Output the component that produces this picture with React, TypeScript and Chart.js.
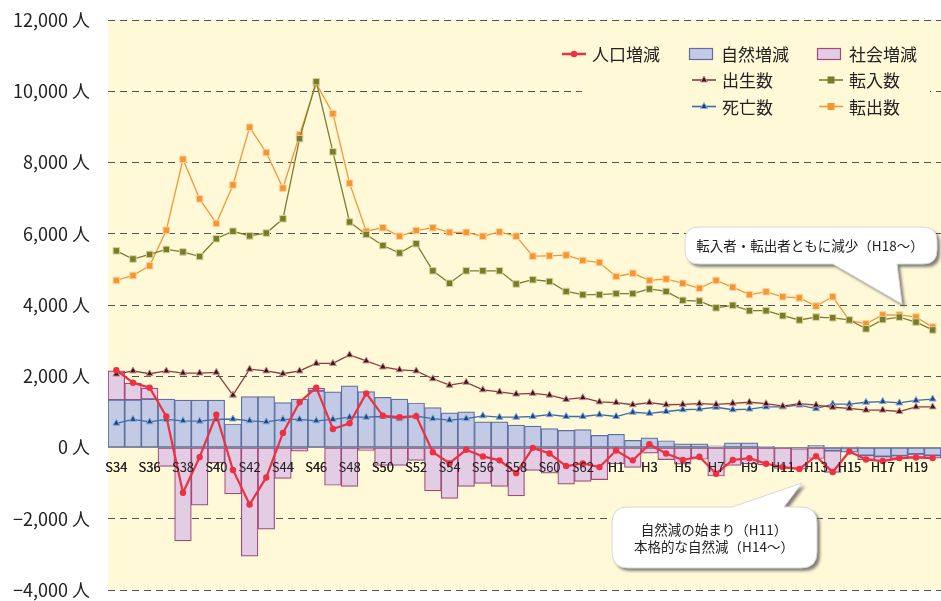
import React, { useEffect, useRef } from 'react';
import { Chart, registerables } from 'chart.js';

Chart.register(...registerables);

// ---------------- data ----------------
const categories = [
  'S34', 'S35', 'S36', 'S37', 'S38', 'S39', 'S40', 'S41', 'S42', 'S43',
  'S44', 'S45', 'S46', 'S47', 'S48', 'S49', 'S50', 'S51', 'S52', 'S53',
  'S54', 'S55', 'S56', 'S57', 'S58', 'S59', 'S60', 'S61', 'S62', 'S63',
  'H1', 'H2', 'H3', 'H4', 'H5', 'H6', 'H7', 'H8', 'H9', 'H10',
  'H11', 'H12', 'H13', 'H14', 'H15', 'H16', 'H17', 'H18', 'H19', 'H20',
];

// 人口増減
const popChange = [
  2170, 1820, 1680, 870, -1270, -270, 920, -630, -1600, -840,
  410, 1270, 1680, 520, 680, 1520, 890, 850, 880, -130,
  -440, -65, -250, -360, -720, -10, -170, -520, -450, -550,
  -85, -360, 90, -170, -350, -260, -735, -350, -300, -456,
  -550, -600, -245, -688, -112, -335, -380, -298, -279, -298,
];

// 自然増減
const naturalChange = [
  1340, 1340, 1360, 1360, 1330, 1330, 1330, 660, 1430, 1430,
  1260, 1360, 1590, 1560, 1730, 1570, 1410, 1360, 1250, 1120,
  970, 1000, 720, 720, 630, 600, 530, 480, 500, 340,
  370, 200, 270, 190, 100, 100, 50, 130, 130, 30,
  -20, -30, 60, -90, -130, -220, -250, -230, -180, -220,
];

// 社会増減
const socialChange = [
  810, 470, 310, -530, -2620, -1620, -430, -1300, -3050, -2290,
  -870, -100, 80, -1060, -1090, -80, -500, -500, -360, -1220,
  -1430, -1090, -1010, -1090, -1360, -640, -720, -1030, -950, -900,
  -460, -560, -160, -340, -470, -330, -800, -500, -460, -490,
  -570, -580, -310, -610, 20, -120, -130, -75, -100, -80,
];

// 出生数
const births = [
  2060, 2150, 2070, 2150, 2090, 2090, 2110, 1470, 2200, 2150,
  2070, 2150, 2360, 2360, 2600, 2430, 2260, 2180, 2150, 1930,
  1750, 1830, 1620, 1560, 1500, 1520, 1470, 1350, 1400, 1280,
  1260, 1200, 1260, 1200, 1210, 1230, 1210, 1240, 1270, 1230,
  1160, 1230, 1190, 1130, 1100, 1050, 1050, 1010, 1140, 1140,
];

// 死亡数
const deaths = [
  680, 790, 720, 790, 750, 740, 790, 800, 750, 720,
  790, 790, 750, 790, 850, 850, 870, 810, 880, 810,
  770, 810, 890, 850, 850, 870, 920, 870, 870, 920,
  870, 990, 960, 1010, 1060, 1080, 1130, 1060, 1080, 1140,
  1140, 1190, 1090, 1220, 1220, 1270, 1290, 1250, 1320, 1360,
];

// 転入数
const movedIn = [
  5520, 5290, 5420, 5560, 5490, 5360, 5860, 6070, 5940, 6020,
  6420, 8670, 10270, 8300, 6330, 5980, 5670, 5460, 5720, 4960,
  4610, 4960, 4960, 4960, 4590, 4710, 4660, 4380, 4290, 4290,
  4320, 4320, 4450, 4380, 4130, 4110, 3920, 3990, 3840, 3840,
  3700, 3580, 3660, 3640, 3580, 3330, 3590, 3660, 3520, 3300,
];

// 転出数
const movedOut = [
  4690, 4830, 5100, 6100, 8090, 6980, 6290, 7370, 8990, 8280,
  7280, 8780, 10220, 9370, 7420, 6070, 6170, 5930, 6090, 6170,
  6040, 6040, 5930, 6050, 5930, 5370, 5380, 5400, 5250, 5190,
  4800, 4890, 4690, 4730, 4610, 4470, 4690, 4500, 4290, 4370,
  4230, 4200, 3970, 4230, 3570, 3470, 3720, 3720, 3660, 3380,
];

const yMin = -4000;
const yMax = 12000;
const yStep = 2000;
const yUnit = '人';

const callout1Lines = ['転入者・転出者ともに減少（H18〜）'];
const callout2Lines = ['自然減の始まり（H11）', '本格的な自然減（H14〜）'];

// ---------------- styles ----------------
const FONT = '"Noto Sans CJK JP", "Noto Sans", sans-serif';
const PLOT_BG = '#FFF9D7';
const TEXT = '#222222';

const fmtTick = (v: number) =>
  (v < 0 ? '−' : '') + Math.abs(v).toLocaleString('en-US') + ' ' + yUnit;

function drawTriangle(ctx: CanvasRenderingContext2D, x: number, y: number, r: number, fill: string, stroke: string) {
  ctx.beginPath();
  let rad = 0;
  ctx.moveTo(x + Math.sin(rad) * r, y - Math.cos(rad) * r);
  rad += (2 * Math.PI) / 3;
  ctx.lineTo(x + Math.sin(rad) * r, y - Math.cos(rad) * r);
  rad += (2 * Math.PI) / 3;
  ctx.lineTo(x + Math.sin(rad) * r, y - Math.cos(rad) * r);
  ctx.closePath();
  ctx.fillStyle = fill;
  ctx.fill();
  ctx.strokeStyle = stroke;
  ctx.lineWidth = 1;
  ctx.stroke();
}

const bgPlugin = {
  id: 'plotBg',
  beforeDraw(chart: any) {
    const { ctx, chartArea } = chart;
    ctx.save();
    ctx.fillStyle = PLOT_BG;
    ctx.fillRect(chartArea.left, chartArea.top, chartArea.right - chartArea.left, chartArea.bottom - chartArea.top);
    ctx.restore();
  },
};

// x tick labels sit on top of the bars (as in the original)
const xLabelsOnTop = {
  id: 'xLabelsOnTop',
  afterDatasetsDraw(chart: any) {
    const sx = chart.scales.x;
    if (sx && typeof sx.drawLabels === 'function') sx.drawLabels(chart.chartArea);
  },
};

// legend layout: [dataset index, sample x, row y]
const legendLayout: Array<[number, number, number]> = [
  [0, 562, 54],
  [5, 689, 54],
  [6, 817, 54],
  [1, 692, 80],
  [3, 819, 80],
  [2, 692, 106.5],
  [4, 819, 106.5],
];

const legendPlugin = {
  id: 'customLegend',
  afterDraw(chart: any) {
    const ctx: CanvasRenderingContext2D = chart.ctx;
    const ds = chart.data.datasets;
    ctx.save();
    ctx.fillStyle = PLOT_BG;
    ctx.fillRect(582, 40, 348, 82);
    ctx.font = `17px ${FONT}`;
    ctx.textBaseline = 'middle';
    ctx.textAlign = 'left';
    for (const [i, x, y] of legendLayout) {
      const d = ds[i];
      let textX = x + 31;
      if (d.type === 'bar') {
        ctx.fillStyle = d.backgroundColor;
        ctx.fillRect(x + 0.5, y - 5.5, 23, 11);
        ctx.strokeStyle = d.borderColor;
        ctx.lineWidth = 1.2;
        ctx.strokeRect(x + 0.5, y - 5.5, 23, 11);
        textX = x + 32;
      } else {
        ctx.strokeStyle = d.borderColor;
        ctx.lineWidth = i === 0 ? 2.5 : 1.6;
        ctx.beginPath();
        ctx.moveTo(x, y);
        ctx.lineTo(x + 24, y);
        ctx.stroke();
        const cx = x + 12;
        if (d.pointStyle === 'circle') {
          ctx.beginPath();
          ctx.arc(cx, y, 3.2, 0, Math.PI * 2);
          ctx.fillStyle = d.pointBackgroundColor;
          ctx.fill();
        } else if (d.pointStyle === 'triangle') {
          drawTriangle(ctx, cx, y, 4, d.pointBackgroundColor, d.pointBorderColor);
        } else {
          ctx.fillStyle = d.pointBackgroundColor;
          ctx.fillRect(cx - 3.5, y - 3.5, 7, 7);
        }
        textX = x + 30;
      }
      ctx.fillStyle = TEXT;
      ctx.fillText(d.label, textX, y + 1);
    }
    ctx.restore();
  },
};

function calloutPath(
  ctx: CanvasRenderingContext2D,
  x: number, y: number, w: number, h: number, r: number,
  tail: { side: 'top' | 'bottom'; a: number; b: number; tx: number; ty: number },
) {
  ctx.beginPath();
  ctx.moveTo(x + r, y);
  if (tail.side === 'top') {
    ctx.lineTo(tail.a, y);
    ctx.lineTo(tail.tx, tail.ty);
    ctx.lineTo(tail.b, y);
  }
  ctx.lineTo(x + w - r, y);
  ctx.quadraticCurveTo(x + w, y, x + w, y + r);
  ctx.lineTo(x + w, y + h - r);
  ctx.quadraticCurveTo(x + w, y + h, x + w - r, y + h);
  if (tail.side === 'bottom') {
    ctx.lineTo(tail.b, y + h);
    ctx.lineTo(tail.tx, tail.ty);
    ctx.lineTo(tail.a, y + h);
  }
  ctx.lineTo(x + r, y + h);
  ctx.quadraticCurveTo(x, y + h, x, y + h - r);
  ctx.lineTo(x, y + r);
  ctx.quadraticCurveTo(x, y, x + r, y);
  ctx.closePath();
}

const calloutPlugin = {
  id: 'callouts',
  afterDraw(chart: any) {
    const ctx: CanvasRenderingContext2D = chart.ctx;
    const boxes = [
      { x: 685, y: 227, w: 252, h: 37, r: 14, tail: { side: 'bottom' as const, a: 833, b: 897, tx: 902, ty: 304 }, lines: callout1Lines, cx: 810, cy: 245.5 },
      { x: 612, y: 507, w: 205, h: 61, r: 16, tail: { side: 'top' as const, a: 732, b: 784, tx: 802, ty: 483 }, lines: callout2Lines, cx: 714, cy: 529.5 },
    ];
    ctx.save();
    for (const b of boxes) {
      ctx.save();
      ctx.shadowColor = 'rgba(90,90,90,0.75)';
      ctx.shadowBlur = 3;
      ctx.shadowOffsetX = 3;
      ctx.shadowOffsetY = 3;
      calloutPath(ctx, b.x, b.y, b.w, b.h, b.r, b.tail);
      ctx.fillStyle = '#FFFFFF';
      ctx.fill();
      ctx.restore();
      calloutPath(ctx, b.x, b.y, b.w, b.h, b.r, b.tail);
      ctx.strokeStyle = '#D8D8D8';
      ctx.lineWidth = 1;
      ctx.stroke();
      ctx.fillStyle = TEXT;
      ctx.font = `13.5px ${FONT}`;
      ctx.textAlign = 'center';
      ctx.textBaseline = 'middle';
      b.lines.forEach((t, k) => ctx.fillText(t, b.cx, b.cy + k * 17.5));
    }
    ctx.restore();
  },
};

export default function App() {
  const ref = useRef<HTMLCanvasElement | null>(null);

  useEffect(() => {
    if (!ref.current) return;
    const chart = new Chart(ref.current, {
      type: 'bar',
      data: {
        labels: categories,
        datasets: [
          {
            type: 'line', label: '人口増減', data: popChange,
            borderColor: '#EE3042', backgroundColor: '#EE3042', borderWidth: 2.2,
            pointStyle: 'circle', pointRadius: 3.2, pointBackgroundColor: '#EE3042', pointBorderColor: '#EE3042', pointBorderWidth: 0,
            order: 0, stack: 'l0', tension: 0,
          },
          {
            type: 'line', label: '出生数', data: births,
            borderColor: '#8E3A3E', backgroundColor: '#8E3A3E', borderWidth: 1.3,
            pointStyle: 'triangle', pointRadius: 4, pointBackgroundColor: '#3E1416', pointBorderColor: '#C99092', pointBorderWidth: 1,
            order: 1, stack: 'l1', tension: 0,
          },
          {
            type: 'line', label: '死亡数', data: deaths,
            borderColor: '#3A6EA8', backgroundColor: '#3A6EA8', borderWidth: 1.3,
            pointStyle: 'triangle', pointRadius: 4, pointBackgroundColor: '#17498A', pointBorderColor: '#8AAAD4', pointBorderWidth: 1,
            order: 1, stack: 'l2', tension: 0,
          },
          {
            type: 'line', label: '転入数', data: movedIn,
            borderColor: '#7D7D2E', backgroundColor: '#7D7D2E', borderWidth: 1.3,
            pointStyle: 'rect', pointRadius: 4.6, pointBackgroundColor: '#7A7A28', pointBorderColor: '#D4D49C', pointBorderWidth: 1,
            order: 1, stack: 'l3', tension: 0,
          },
          {
            type: 'line', label: '転出数', data: movedOut,
            borderColor: '#F79634', backgroundColor: '#F79634', borderWidth: 1.3,
            pointStyle: 'rect', pointRadius: 4.6, pointBackgroundColor: '#F7952E', pointBorderColor: '#FBD3A4', pointBorderWidth: 1,
            order: 1, stack: 'l4', tension: 0,
          },
          {
            type: 'bar', label: '自然増減', data: naturalChange,
            backgroundColor: '#C3CAE6', borderColor: '#5D6FA0', borderWidth: 1.2, borderSkipped: false,
            barPercentage: 1, categoryPercentage: 1, order: 3, stack: 'bars',
          },
          {
            type: 'bar', label: '社会増減', data: socialChange,
            backgroundColor: '#E3CDE4', borderColor: '#A24A7A', borderWidth: 1.2, borderSkipped: false,
            barPercentage: 1, categoryPercentage: 1, order: 4, stack: 'bars',
          },
        ] as any,
      },
      options: {
        responsive: false,
        animation: false,
        devicePixelRatio: 1,
        layout: { autoPadding: false, padding: { top: 20, right: 0, bottom: 11, left: 0 } },
        plugins: { legend: { display: false }, tooltip: { enabled: false } },
        scales: {
          x: {
            type: 'category',
            stacked: true,
            offset: true,
            position: { y: 0 } as any,
            afterFit: (s: any) => { s.paddingLeft = 0; s.paddingRight = 0; },
            grid: { display: false, drawTicks: false },
            border: { display: true, color: '#8C8C8C', width: 1 },
            ticks: {
              autoSkip: false,
              maxRotation: 0,
              minRotation: 0,
              padding: 12,
              color: TEXT,
              font: { family: FONT, size: 13 },
              callback: (_v: any, i: number) => (i % 2 === 0 ? categories[i] : ''),
            },
          },
          y: {
            stacked: true,
            min: yMin,
            max: yMax,
            afterFit: (s: any) => { s.width = 108; s.paddingTop = 0; s.paddingBottom = 0; },
            grid: { color: '#555555', lineWidth: 1, drawTicks: false },
            border: { display: false, dash: [7, 5] },
            ticks: {
              stepSize: yStep,
              padding: 18,
              color: TEXT,
              font: { family: FONT, size: 18 },
              callback: (v: any) => fmtTick(Number(v)),
            },
          },
        },
      } as any,
      plugins: [bgPlugin, xLabelsOnTop, legendPlugin, calloutPlugin],
    });
    return () => chart.destroy();
  }, []);

  return (
    <div style={{ position: 'fixed', left: 0, top: 0, width: 941, height: 601, background: '#fff' }}>
      <canvas ref={ref} width={941} height={601} style={{ display: 'block', width: 941, height: 601 }} />
    </div>
  );
}
